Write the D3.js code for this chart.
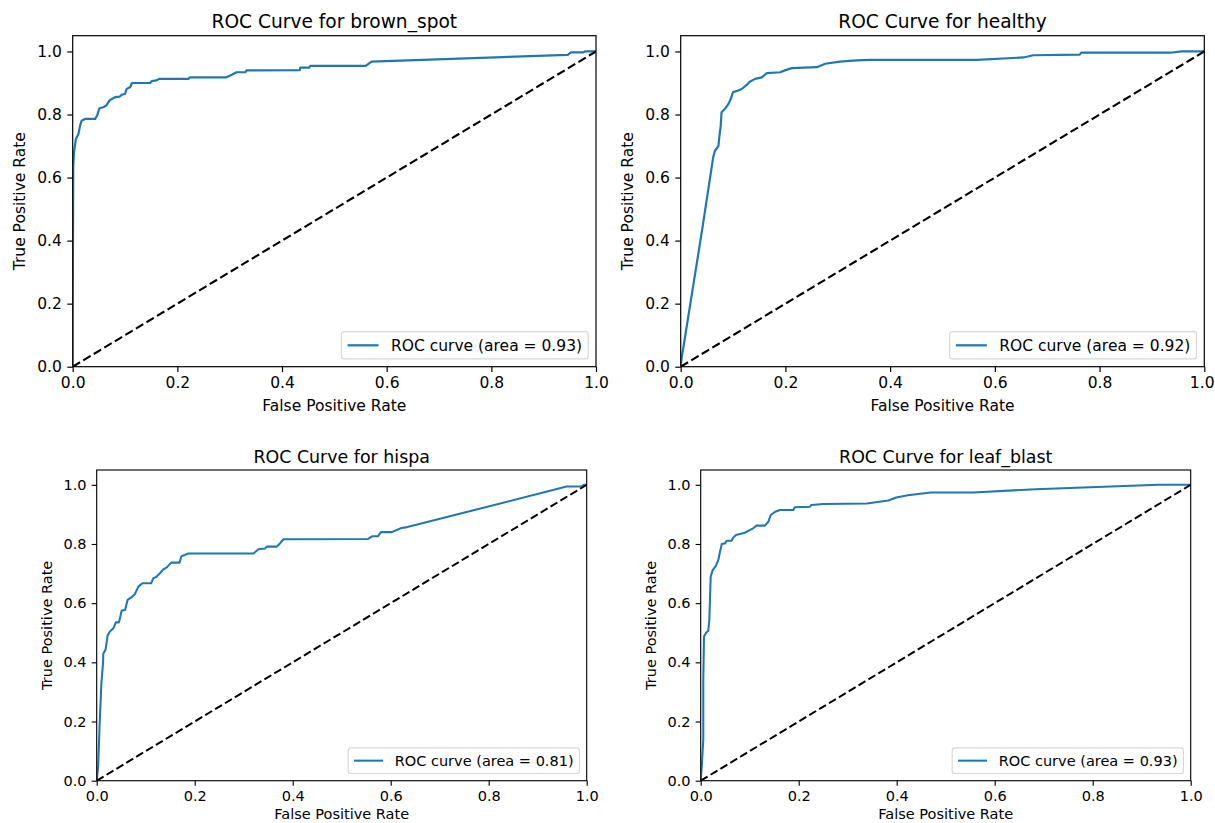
<!DOCTYPE html>
<html>
<head>
<meta charset="utf-8">
<script src="https://cdn.jsdelivr.net/npm/d3@7"></script>
<style>
  body { margin: 0; background: #fff; }
  text { font-family: "DejaVu Sans", sans-serif; fill: #000; }
</style>
</head>
<body>
<script>
// class names and the AUC shown in each legend
let classNames = ["brown_spot", "healthy", "hispa", "leaf_blast"];
let aucValues = [0.93, 0.92, 0.81, 0.93];
let tickValues = [0, 0.2, 0.4, 0.6, 0.8, 1.0];

// ROC points
let fprBrownSpot = [0, 0, 0.001, 0.0025, 0.006, 0.011, 0.014, 0.017, 0.0235, 0.043, 0.047, 0.051, 0.0585, 0.065, 0.07, 0.0745, 0.081, 0.09, 0.094, 0.1, 0.103, 0.11, 0.113, 0.148, 0.151, 0.16, 0.165, 0.221, 0.224, 0.294, 0.304, 0.313, 0.33, 0.332, 0.434, 0.435, 0.452, 0.454, 0.56, 0.571, 0.946, 0.952, 0.975, 0.979, 1];
let tprBrownSpot = [0, 0.12, 0.637, 0.68, 0.722, 0.738, 0.764, 0.78, 0.786, 0.786, 0.798, 0.82, 0.823, 0.83, 0.844, 0.849, 0.855, 0.857, 0.863, 0.865, 0.881, 0.887, 0.9, 0.9, 0.906, 0.908, 0.913, 0.913, 0.918, 0.918, 0.926, 0.934, 0.934, 0.94, 0.941, 0.949, 0.949, 0.954, 0.954, 0.968, 0.989, 0.997, 0.997, 1.0, 1];

let fprHealthy = [0, 0.002, 0.005, 0.041, 0.062, 0.0655, 0.072, 0.074, 0.0764, 0.078, 0.0846, 0.091, 0.0955, 0.1, 0.11, 0.1165, 0.126, 0.132, 0.142, 0.155, 0.164, 0.19, 0.199, 0.212, 0.26, 0.276, 0.304, 0.336, 0.362, 0.566, 0.655, 0.673, 0.762, 0.765, 0.935, 0.957, 1];
let tprHealthy = [0, 0.03, 0.06, 0.435, 0.664, 0.685, 0.70, 0.732, 0.764, 0.807, 0.818, 0.833, 0.849, 0.871, 0.876, 0.881, 0.894, 0.904, 0.913, 0.918, 0.931, 0.934, 0.94, 0.947, 0.95, 0.961, 0.968, 0.972, 0.973, 0.973, 0.981, 0.988, 0.99, 0.996, 0.996, 1.0, 1];

let fprHispa = [0, 0.003, 0.006, 0.0095, 0.013, 0.0135, 0.018, 0.0224, 0.027, 0.034, 0.039, 0.0455, 0.051, 0.058, 0.063, 0.0714, 0.078, 0.085, 0.093, 0.111, 0.1155, 0.122, 0.129, 0.136, 0.143, 0.152, 0.169, 0.173, 0.18, 0.187, 0.32, 0.33, 0.3435, 0.347, 0.367, 0.374, 0.381, 0.554, 0.562, 0.574, 0.58, 0.602, 0.622, 0.634, 0.959, 0.99, 0.994, 1];
let tprHispa = [0, 0.05, 0.19, 0.327, 0.40, 0.43, 0.442, 0.492, 0.504, 0.515, 0.535, 0.535, 0.575, 0.577, 0.611, 0.62, 0.631, 0.656, 0.667, 0.667, 0.684, 0.689, 0.701, 0.714, 0.721, 0.737, 0.737, 0.759, 0.763, 0.768, 0.768, 0.782, 0.785, 0.791, 0.791, 0.802, 0.816, 0.817, 0.826, 0.826, 0.84, 0.84, 0.854, 0.857, 0.994, 0.994, 1.0, 1];

let fprLeafBlast = [0, 0.0024, 0.0053, 0.0053, 0.0067, 0.011, 0.0155, 0.0176, 0.0204, 0.0245, 0.031, 0.036, 0.0394, 0.043, 0.0496, 0.053, 0.063, 0.0666, 0.072, 0.08, 0.09, 0.1, 0.107, 0.114, 0.131, 0.138, 0.143, 0.152, 0.162, 0.189, 0.192, 0.223, 0.226, 0.25, 0.339, 0.383, 0.399, 0.423, 0.439, 0.47, 0.557, 0.683, 0.935, 1];
let tprLeafBlast = [0, 0.054, 0.14, 0.34, 0.487, 0.50, 0.507, 0.543, 0.689, 0.712, 0.726, 0.746, 0.774, 0.80, 0.802, 0.811, 0.811, 0.822, 0.83, 0.834, 0.838, 0.847, 0.853, 0.862, 0.862, 0.875, 0.898, 0.909, 0.915, 0.915, 0.924, 0.926, 0.932, 0.935, 0.937, 0.947, 0.957, 0.965, 0.968, 0.974, 0.974, 0.985, 1.0, 1];

let fprList = [fprBrownSpot, fprHealthy, fprHispa, fprLeafBlast];
let tprList = [tprBrownSpot, tprHealthy, tprHispa, tprLeafBlast];

// axes boxes in pixels; the bottom row of the picture is slightly smaller
let boxes = [
    { left: 72.7, right: 596, top: 35.7, bottom: 366.7, s: 1 },
    { left: 680.7, right: 1204.3, top: 35.7, bottom: 366.7, s: 1 },
    { left: 96.7, right: 586.7, top: 470, bottom: 780.7, s: 0.937 },
    { left: 700.7, right: 1190.7, top: 470, bottom: 780.7, s: 0.937 }
];
let pageW = 1215, pageH = 823;

let canvas = d3.select("body").append("svg")
    .attr("width", pageW)
    .attr("height", pageH);

classNames.forEach((name, i) => {
    let b = boxes[i];
    let fs = 15.5 * b.s;
    let g = canvas.append("g");

    let x = d3.scaleLinear().domain([0, 1]).range([b.left, b.right]);
    let y = d3.scaleLinear().domain([0, 1.05]).range([b.bottom, b.top]);

    g.append("clipPath").attr("id", "clip" + i)
        .append("rect")
        .attr("x", b.left).attr("y", b.top)
        .attr("width", b.right - b.left).attr("height", b.bottom - b.top);

    let points = fprList[i].map((f, j) => [f, tprList[i][j]]);
    let line = d3.line().x((d) => x(d[0])).y((d) => y(d[1]));

    g.append("path")
        .datum(points)
        .attr("clip-path", `url(#clip${i})`)
        .attr("d", line)
        .attr("fill", "none")
        .attr("stroke", "#1f77b4")
        .attr("stroke-width", 2.2 * b.s)
        .attr("stroke-linejoin", "round")
        .attr("stroke-linecap", "square");

    g.append("path")
        .datum([[0, 0], [1, 1]])
        .attr("clip-path", `url(#clip${i})`)
        .attr("d", line)
        .attr("fill", "none")
        .attr("stroke", "#000")
        .attr("stroke-width", 2.1 * b.s)
        .attr("stroke-dasharray", `${8.6 * b.s},${3.7 * b.s}`);

    let xAxis = d3.axisBottom(x)
        .tickValues(tickValues)
        .tickFormat(d3.format(".1f"))
        .tickSize(5.4 * b.s)
        .tickPadding(5.4 * b.s);
    let yAxis = d3.axisLeft(y)
        .tickValues(tickValues)
        .tickFormat(d3.format(".1f"))
        .tickSize(5.4 * b.s)
        .tickPadding(5.4 * b.s);

    let gx = g.append("g")
        .attr("transform", `translate(0, ${b.bottom})`)
        .call(xAxis)
        .call((a) => a.select(".domain").remove());
    g.append("g")
        .attr("transform", `translate(${b.left}, 0)`)
        .call(yAxis)
        .call((a) => a.select(".domain").remove());

    g.selectAll(".tick line").attr("stroke", "#000").attr("stroke-width", 1.2 * b.s);
    g.selectAll(".tick text")
        .attr("font-family", "DejaVu Sans")
        .attr("font-size", fs)
        .attr("fill", "#000");

    // keep the last x tick label inside the page
    gx.selectAll(".tick text").each(function (d) {
        let w = this.getComputedTextLength();
        let over = x(d) + w / 2 - (pageW - 1);
        if (over > 0) d3.select(this).attr("x", -over);
    });

    // frame
    g.append("rect")
        .attr("x", b.left).attr("y", b.top)
        .attr("width", b.right - b.left).attr("height", b.bottom - b.top)
        .attr("fill", "none")
        .attr("stroke", "#000")
        .attr("stroke-width", 1.2 * b.s);

    // title and axis labels
    g.append("text")
        .attr("x", (b.left + b.right) / 2)
        .attr("y", b.top - 7.6 * b.s)
        .attr("text-anchor", "middle")
        .attr("font-size", 18.6 * b.s)
        .text("ROC Curve for " + name);

    g.append("text")
        .attr("x", (b.left + b.right) / 2)
        .attr("y", Math.min(b.bottom + 44.5 * b.s, pageH - 0.26 * fs))
        .attr("text-anchor", "middle")
        .attr("font-size", fs)
        .text("False Positive Rate");

    let labelX = b.left - 47.4 * b.s;
    let labelY = (y(0) + y(1.05)) / 2;
    g.append("text")
        .attr("transform", `translate(${labelX}, ${labelY}) rotate(-90)`)
        .attr("text-anchor", "middle")
        .attr("font-size", fs)
        .text("True Positive Rate");

    // legend, lower right
    let legend = g.append("g");
    let label = legend.append("text")
        .attr("font-size", fs)
        .text(`ROC curve (area = ${aucValues[i].toFixed(2)})`);
    let textW = label.node().getComputedTextLength();
    let lw = textW + 3.6 * fs;
    let lh = 1.76 * fs;
    let lx = b.right - 0.5 * fs - lw;
    let ly = b.bottom - 0.5 * fs - lh;
    let cy = ly + lh / 2;

    legend.insert("rect", "text")
        .attr("x", lx).attr("y", ly)
        .attr("width", lw).attr("height", lh)
        .attr("rx", 3 * b.s)
        .attr("fill", "#fff")
        .attr("fill-opacity", 0.8)
        .attr("stroke", "#d6d6d6")
        .attr("stroke-width", 1.2 * b.s);
    legend.insert("line", "text")
        .attr("x1", lx + 0.4 * fs).attr("x2", lx + 2.4 * fs)
        .attr("y1", cy).attr("y2", cy)
        .attr("stroke", "#1f77b4")
        .attr("stroke-width", 2.2 * b.s);
    label
        .attr("x", lx + 3.2 * fs)
        .attr("y", cy + 0.36 * fs);
});
</script>
</body>
</html>
